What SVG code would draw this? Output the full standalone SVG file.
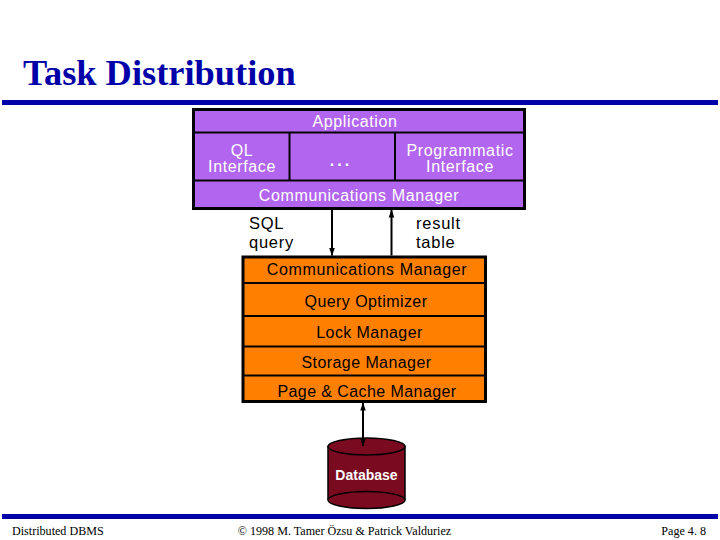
<svg xmlns="http://www.w3.org/2000/svg" width="720" height="540" viewBox="0 0 720 540">
<style>
.s{font-family:"Liberation Sans",Arial,sans-serif;font-size:16px;letter-spacing:.62px;text-anchor:middle}
.t{letter-spacing:.42px}
.w{fill:#fff}.k{fill:#000}
.d{font-family:"Liberation Serif","Times New Roman",serif;font-size:12.1px;fill:#000}
.n{font-family:"Liberation Sans",Arial,sans-serif;font-size:16.5px;letter-spacing:.75px;fill:#000}
.l{stroke:#000;stroke-width:2;fill:none}
.h{fill:#000}
</style>
<defs>
<marker id="a" viewBox="0 0 8 8" refX="7.5" refY="4" markerWidth="8" markerHeight="8" markerUnits="userSpaceOnUse" orient="auto-start-reverse"><path class="h" d="M0 1.200L8 4L0 6.800Z"/></marker>
</defs>
<rect width="720" height="540" fill="#fff"/>
<text id="title" x="23" y="85" font-family="Liberation Serif,Times New Roman,serif" font-size="36.400" font-weight="bold" fill="#0000a8">Task Distribution</text>
<rect x="2" y="100" width="716" height="5" fill="#0000a8"/>
<rect x="2" y="514" width="716" height="5" fill="#0000a8"/>
<g id="client">
<rect x="193.500" y="109.500" width="331" height="99" fill="#b266f0" stroke="#000" stroke-width="3"/>
<path class="l" d="M194 132.500H524M194 180.500H524M289.500 133V180M395 133V180"/>
<text class="s w" x="355" y="127">Application</text>
<text class="s w" x="242" y="155.500">QL</text>
<text class="s w" x="242" y="172">Interface</text>
<text class="s w" x="341" y="166" font-weight="bold" style="letter-spacing:3px">...</text>
<text class="s w" x="460" y="155.500">Programmatic</text>
<text class="s w" x="460" y="172">Interface</text>
<text class="s w" x="359" y="201">Communications Manager</text>
</g>
<g id="server">
<rect x="243" y="257" width="242.500" height="144.500" fill="#ff8000" stroke="#000" stroke-width="3"/>
<path class="l" d="M244 283H485M244 316H485M244 346.500H485M244 375.500H485"/>
<text class="s k" x="367" y="275">Communications Manager</text>
<text class="s t k" x="366" y="307">Query Optimizer</text>
<text class="s t k" x="369.500" y="338">Lock Manager</text>
<text class="s t k" x="366.500" y="368">Storage Manager</text>
<text class="s t k" x="367" y="397">Page &amp; Cache Manager</text>
</g>
<g id="database">
<path d="M328 446.500V500A38.500 8.500 0 0 0 405 500V446.500Z" fill="#7a0a20" stroke="#000" stroke-width="1.500"/>
<ellipse cx="366.500" cy="446.500" rx="38.500" ry="8.500" fill="#7a0a20" stroke="#000" stroke-width="1.500"/>
<path d="M328 500A38.500 8.500 0 0 1 405 500" fill="none" stroke="#000" stroke-width="1.500"/>
<text x="366.500" y="480" font-family="Liberation Sans,Arial,sans-serif" font-size="14" font-weight="bold" fill="#fff" text-anchor="middle">Database</text>
</g>
<g id="connectors">
<path class="l" d="M332 210V255.500" marker-end="url(#a)"/>
<path class="l" d="M391.500 255.500V210" marker-end="url(#a)"/>
<path class="l" d="M363 403V446" marker-start="url(#a)" marker-end="url(#a)"/>
</g>
<g id="labels">
<text class="n" x="249" y="228.500">SQL<tspan x="249" dy="19">query</tspan></text>
<text class="n" x="416" y="228.500">result<tspan x="416" dy="19">table</tspan></text>
</g>
<g id="footer">
<text class="d" x="12" y="535">Distributed DBMS</text>
<text class="d" x="344.500" y="535" text-anchor="middle">© 1998 M. Tamer Özsu &amp; Patrick Valduriez</text>
<text class="d" x="706" y="535" text-anchor="end">Page 4. 8</text>
</g>
</svg>
